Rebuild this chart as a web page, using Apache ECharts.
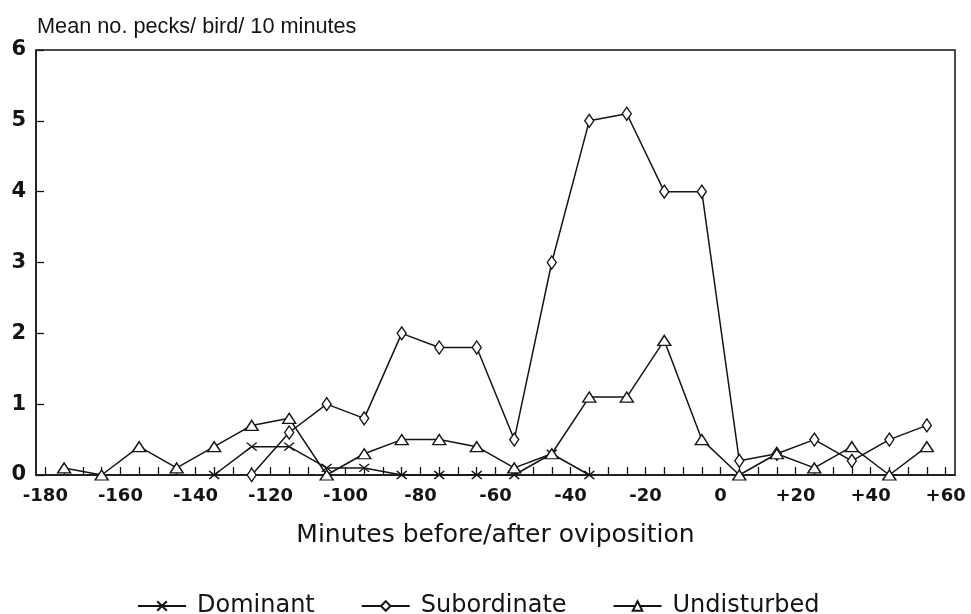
<!DOCTYPE html>
<html>
<head>
<meta charset="utf-8">
<script src="https://cdn.jsdelivr.net/npm/echarts@6/dist/echarts.min.js"></script>
<style>
html,body{margin:0;padding:0;background:#fff;}
#chart{width:971px;height:614px;}
</style>
</head>
<body>
<div id="chart"></div>
<script>
// Minutes before/after oviposition (centres of 10-minute bins)
var minutes = [-175,-165,-155,-145,-135,-125,-115,-105,-95,-85,-75,-65,-55,-45,-35,-25,-15,-5,5,15,25,35,45,55];
// Mean no. pecks / bird / 10 minutes
var dominant    = [null,null,null,null,0,0.4,0.4,0.1,0.1,0,0,0,0,0.3,0,null,null,null,null,null,null,null,null,null];
var subordinate = [null,null,null,null,null,0,0.6,1.0,0.8,2.0,1.8,1.8,0.5,3.0,5.0,5.1,4.0,4.0,0.2,0.3,0.5,0.2,0.5,0.7];
var undisturbed = [0.1,0,0.4,0.1,0.4,0.7,0.8,0,0.3,0.5,0.5,0.4,0.1,0.3,1.1,1.1,1.9,0.5,0,0.3,0.1,0.4,0,0.4];
var seriesNames = ['Dominant','Subordinate','Undisturbed'];
var xTickValues = [-180,-175,-170,-165,-160,-155,-150,-145,-140,-135,-130,-125,-120,-115,-110,-105,-100,-95,-90,-85,-80,-75,-70,-65,-60,-55,-50,-45,-40,-35,-30,-25,-20,-15,-10,-5,0,5,10,15,20,25,30,35,40,45,50,55,60];
var xLabelValues = [-180,-160,-140,-120,-100,-80,-60,-40,-20,0,20,40,60];
var yTitle = 'Mean no. pecks/ bird/ 10 minutes';
var xTitle = 'Minutes before/after oviposition';

function pairs(vals){
  return minutes.map(function(m,i){ return [m, vals[i]]; });
}

var ink = '#141414';
var chart = echarts.init(document.getElementById('chart'), null, {renderer:'canvas'});

function lineSeries(name, vals, symbol, size){
  return {
    name: name,
    type: 'line',
    data: pairs(vals),
    connectNulls: false,
    showAllSymbol: true,
    symbol: symbol,
    symbolSize: size,
    lineStyle: {color: ink, width: 1.5},
    itemStyle: {color: symbol.indexOf('path://') === 0 ? 'rgba(0,0,0,0)' : '#fff', borderColor: ink, borderWidth: 1.4},
    emphasis: {disabled: true},
    animation: false
  };
}

chart.setOption({
  animation: false,
  backgroundColor: '#fff',
  title: {
    text: yTitle,
    left: 37,
    top: 16,
    padding: 0,
    textStyle: {fontFamily: 'Liberation Sans', fontSize: 21.7, fontWeight: 'normal', color: ink}
  },
  grid: {
    left: 36, right: 16, top: 50, bottom: 139,
    show: true, borderColor: ink, borderWidth: 1.5, backgroundColor: 'transparent'
  },
  legend: {
    data: seriesNames,
    left: 132,
    top: 589,
    itemWidth: 48,
    itemHeight: 12,
    itemGap: 46,
    textStyle: {fontFamily: 'DejaVu Sans', fontSize: 24, color: ink, padding: [0, 0, 0, 6]},
    selectedMode: false
  },
  xAxis: {
    type: 'value',
    min: -182.5,
    max: 62.5,
    name: xTitle,
    nameLocation: 'middle',
    nameGap: 48,
    nameTextStyle: {fontFamily: 'DejaVu Sans', fontSize: 25, color: ink},
    axisLine: {show: true, onZero: false, lineStyle: {color: ink, width: 1.5}},
    axisTick: {show: true, inside: true, length: 8, customValues: xTickValues, lineStyle: {color: ink, width: 1.3}},
    axisLabel: {
      customValues: xLabelValues,
      margin: 12,
      fontFamily: 'DejaVu Sans', fontWeight: 'bold', fontSize: 18, color: ink,
      formatter: function(v){ return v > 0 ? '+' + v : String(v); }
    },
    splitLine: {show: false}
  },
  yAxis: {
    type: 'value',
    min: 0, max: 6, interval: 1,
    axisLine: {show: true, onZero: false, lineStyle: {color: ink, width: 1.5}},
    axisTick: {show: true, inside: true, length: 8, lineStyle: {color: ink, width: 1.3}},
    axisLabel: {margin: 10, fontFamily: 'DejaVu Sans', fontWeight: 'bold', fontSize: 21, color: ink},
    splitLine: {show: false}
  },
  series: [
    lineSeries(seriesNames[0], dominant, 'path://M0,0L10,8M10,0L0,8', [10, 8]),
    lineSeries(seriesNames[1], subordinate, 'diamond', [9, 13]),
    lineSeries(seriesNames[2], undisturbed, 'triangle', [13, 10])
  ]
});
</script>
</body>
</html>
